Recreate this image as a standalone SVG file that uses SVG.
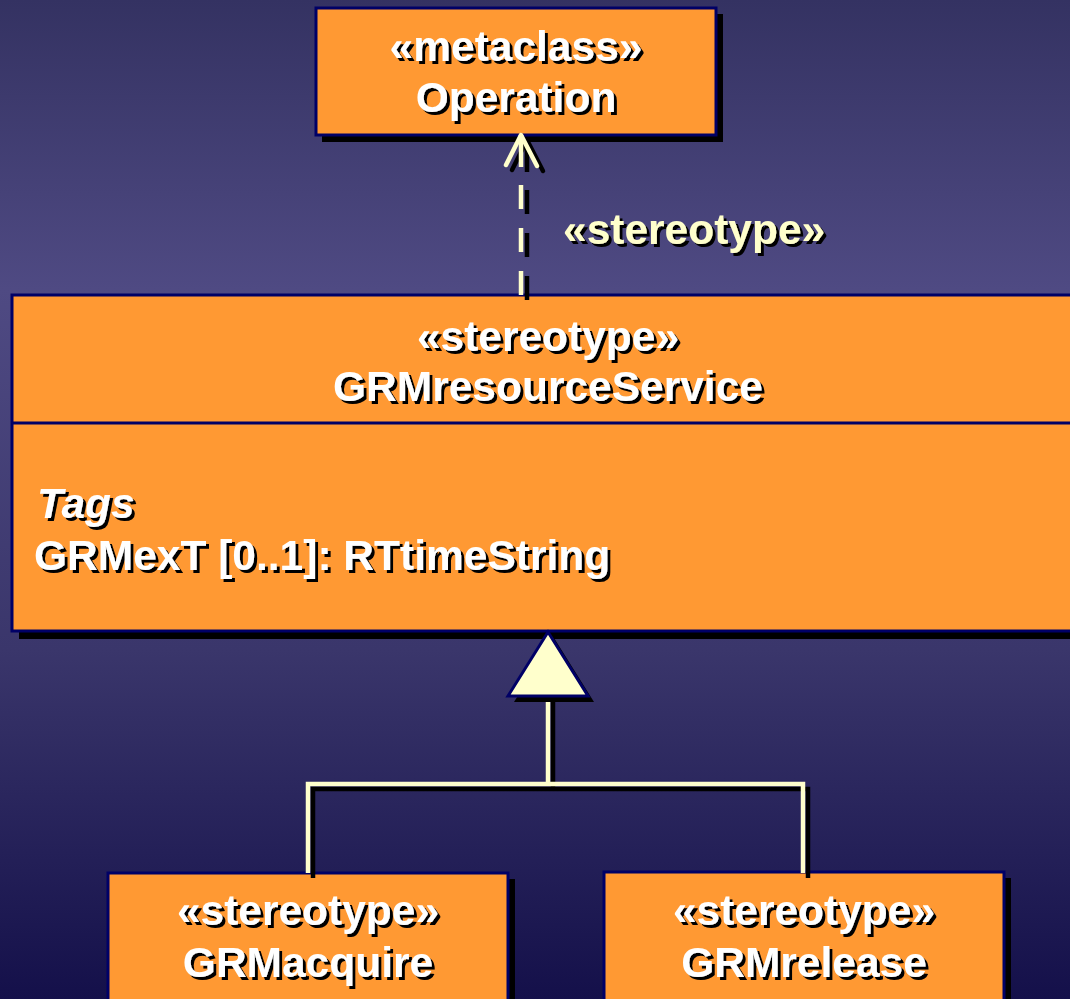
<svg xmlns="http://www.w3.org/2000/svg" width="1070" height="999" viewBox="0 0 1070 999">
  <defs>
    <linearGradient id="bg" x1="0" y1="0" x2="0" y2="1">
      <stop offset="0" stop-color="#343262"/>
      <stop offset="0.29" stop-color="#4f4a83"/>
      <stop offset="0.65" stop-color="#3a366b"/>
      <stop offset="1" stop-color="#14104a"/>
    </linearGradient>
    <filter id="txtShadow" x="-5%" y="-20%" width="110%" height="140%">
      <feDropShadow dx="3" dy="3" stdDeviation="0.4" flood-color="#000" flood-opacity="1"/>
    </filter>
  </defs>
  <style>
    .box { fill: #ff9933; stroke: #000066; stroke-width: 3; }
    .shadow { fill: #000; }
    .t { font-family: "Liberation Sans", Arial, sans-serif; font-weight: bold; font-size: 42.5px; fill: #ffffff; filter: url(#txtShadow); }
    .c { text-anchor: middle; }
    .lbl { fill: #ffffcc; }
    .line { fill: none; stroke: #ffffcc; stroke-width: 4.5; }
    .lineSh { fill: none; stroke: #000; stroke-width: 4.5; }
    .dash { stroke-dasharray: 24 19; }
  </style>

  <rect x="0" y="0" width="1070" height="999" fill="url(#bg)"/>

  <!-- metaclass Operation -->
  <g id="node-operation">
    <rect class="shadow" x="322" y="14" width="401" height="128"/>
    <rect class="box" x="316" y="8" width="400" height="127"/>
    <text class="t c" x="516" y="61">«metaclass»</text>
    <text class="t c" x="516" y="112">Operation</text>
  </g>

  <!-- stereotype GRMresourceService -->
  <g id="node-resource-service">
    <rect class="shadow" x="19" y="302" width="1080" height="337"/>
    <rect class="box" x="12" y="295" width="1075" height="336"/>
    <line x1="12" y1="423" x2="1087" y2="423" stroke="#000066" stroke-width="3"/>
    <text class="t c" x="548" y="351">«stereotype»</text>
    <text class="t c" x="548" y="401">GRMresourceService</text>
    <text class="t" x="37" y="518" font-style="italic">Tags</text>
    <text class="t" x="34" y="570">GRMexT [0..1]: RTtimeString</text>
  </g>

  <!-- stereotype GRMacquire -->
  <g id="node-acquire">
    <rect class="shadow" x="114" y="879" width="401" height="130"/>
    <rect class="box" x="108" y="873" width="400" height="130"/>
    <text class="t c" x="308" y="925">«stereotype»</text>
    <text class="t c" x="308" y="977">GRMacquire</text>
  </g>

  <!-- stereotype GRMrelease -->
  <g id="node-release">
    <rect class="shadow" x="610" y="878" width="401" height="130"/>
    <rect class="box" x="604" y="872" width="400" height="130"/>
    <text class="t c" x="804" y="925">«stereotype»</text>
    <text class="t c" x="804" y="977">GRMrelease</text>
  </g>

  <!-- connectors -->
  <g id="connectors">
    <!-- stereotype extension: dashed arrow up to the metaclass -->
    <g id="extension">
      <line class="lineSh dash" x1="527" y1="300" x2="527" y2="172" stroke-width="5"/>
      <polyline class="lineSh" points="512,170 527,140 543,171" stroke-width="6" stroke-linecap="round" stroke-linejoin="round"/>
      <line class="lineSh" x1="527" y1="140" x2="527" y2="172" stroke-width="5"/>
      <line class="line dash" x1="521" y1="295" x2="521" y2="167" stroke-width="5"/>
      <polyline class="line" points="506,165 521,135 537,166" stroke-width="6" stroke-linecap="round" stroke-linejoin="round"/>
      <line class="line" x1="521" y1="135" x2="521" y2="167" stroke-width="5"/>
    </g>
    <!-- generalization tree -->
    <g id="generalization">
      <polyline class="lineSh" points="313,878 313,789 808,789 808,878"/>
      <line class="lineSh" x1="553" y1="700" x2="553" y2="789"/>
      <polyline class="line" points="308,873 308,784 803,784 803,873"/>
      <line class="line" x1="548" y1="696" x2="548" y2="784"/>
      <polygon points="554,638 594,702 514,702" fill="#000"/>
      <polygon points="548,632 588,696 508,696" fill="#ffffcc" stroke="#000066" stroke-width="3" stroke-linejoin="miter"/>
    </g>
    <text class="t lbl" x="563" y="244">«stereotype»</text>
  </g>
</svg>
